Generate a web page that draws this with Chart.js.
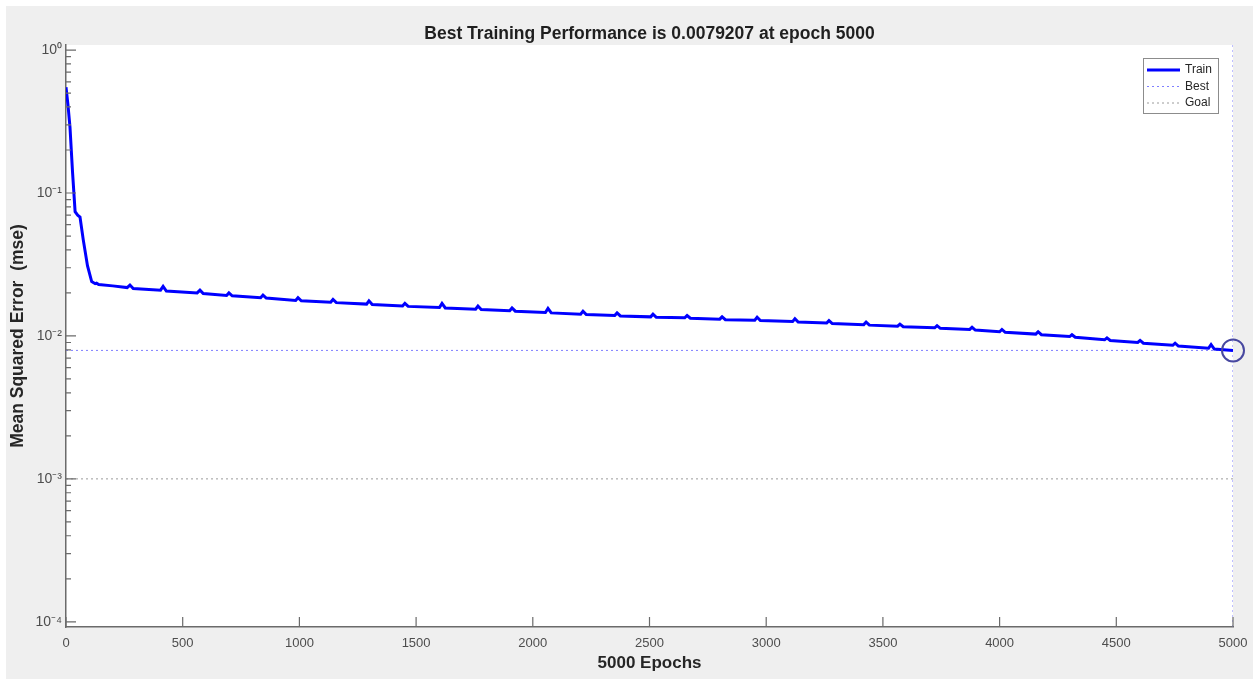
<!DOCTYPE html>
<html>
<head>
<meta charset="utf-8">
<script src="https://cdn.jsdelivr.net/npm/chart.js@4.4.1/dist/chart.umd.min.js"></script>
<style>
  html, body { margin: 0; padding: 0; background: #ffffff; }
</style>
</head>
<body>
<canvas id="graficoDesempenho" width="1259" height="679"></canvas>
<script>
const epocas = [0, 8, 17, 28, 39, 50, 60, 74, 92, 110, 125, 131, 140, 200, 262, 274, 288,
  405, 416, 430, 562, 574, 588, 688, 698, 712, 834, 844, 858, 984, 994, 1008,
  1134, 1144, 1158, 1288, 1298, 1312, 1442, 1452, 1466, 1600, 1611, 1625,
  1755, 1765, 1779, 1901, 1911, 1925, 2054, 2065, 2079, 2205, 2215, 2229,
  2351, 2361, 2375, 2505, 2515, 2529, 2651, 2661, 2675, 2801, 2811, 2825,
  2951, 2961, 2975, 3113, 3123, 3137, 3259, 3269, 3283, 3418, 3428, 3442,
  3563, 3573, 3587, 3722, 3732, 3746, 3872, 3882, 3896, 4000, 4010, 4024,
  4155, 4165, 4179, 4300, 4310, 4324, 4450, 4460, 4474, 4592, 4602, 4616,
  4742, 4752, 4766, 4895, 4906, 4920, 5000];

const mseTreino = [0.55, 0.42, 0.29, 0.14, 0.074, 0.070, 0.068, 0.047, 0.031, 0.0240, 0.0232, 0.0234, 0.0229, 0.0224, 0.0218, 0.0227, 0.0215,
  0.0209, 0.0222, 0.0206, 0.0200, 0.0209, 0.0198, 0.0192, 0.0200, 0.0191, 0.0185, 0.0193, 0.0184, 0.0177, 0.0185, 0.0176,
  0.0172, 0.0180, 0.0171, 0.0167, 0.0176, 0.0166, 0.0162, 0.0169, 0.0161, 0.0158, 0.0169, 0.0157,
  0.0154, 0.0162, 0.0153, 0.0150, 0.0157, 0.0149, 0.0146, 0.0156, 0.0145, 0.0142, 0.0149, 0.0141,
  0.0139, 0.0145, 0.0138, 0.0136, 0.0142, 0.0135, 0.0134, 0.0139, 0.0133, 0.0131, 0.0136, 0.0130,
  0.0129, 0.0135, 0.0128, 0.0126, 0.0132, 0.0125, 0.0123, 0.0128, 0.0122, 0.0120, 0.0125, 0.0119,
  0.0117, 0.0121, 0.0116, 0.0114, 0.0118, 0.0113, 0.0111, 0.0115, 0.0110, 0.0107, 0.0111, 0.0106,
  0.0103, 0.0107, 0.0102, 0.0099, 0.0102, 0.0098, 0.0094, 0.0097, 0.0093, 0.0090, 0.0093, 0.0089,
  0.0086, 0.0089, 0.0085, 0.0082, 0.0087, 0.0081, 0.0079207];

const melhorEpoca = 5000;
const melhorMse = 0.0079207;
const metaMse = 0.001;

const xLimites = [0, 5000];
const yLimites = [9.2e-5, 1.085];
const xTicks = [0, 500, 1000, 1500, 2000, 2500, 3000, 3500, 4000, 4500, 5000];
const yTicks = [1e-4, 1e-3, 1e-2, 1e-1, 1];
const yTickLabels = ['10⁻⁴', '10⁻³', '10⁻²', '10⁻¹', '10⁰'];
const legendaNomes = ['Train', 'Best', 'Goal'];

const FONTE = "'Liberation Sans', Arial, Helvetica, sans-serif";
Chart.defaults.font.family = FONTE;

const fundo = {
  id: 'fundo',
  beforeDraw(chart) {
    const { ctx, chartArea: a } = chart;
    ctx.save();
    ctx.fillStyle = '#ffffff';
    ctx.fillRect(0, 0, chart.width, chart.height);
    ctx.fillStyle = '#efefef';
    ctx.fillRect(6, 6, 1247, 673);
    ctx.fillStyle = '#ffffff';
    ctx.fillRect(a.left, a.top, a.right - a.left, a.bottom - a.top);
    ctx.restore();
  }
};

// marcas para dentro, estilo MATLAB
const marcas = {
  id: 'marcas',
  afterDatasetsDraw(chart) {
    const { ctx, chartArea: a, scales: { x, y } } = chart;
    ctx.save();
    ctx.strokeStyle = '#6b6b6b';
    ctx.lineWidth = 1.2;
    ctx.beginPath();
    yTicks.forEach((v, i) => {
      const py = y.getPixelForValue(v);
      ctx.moveTo(a.left, py);
      ctx.lineTo(a.left + 10, py);
      if (i < yTicks.length - 1) {
        for (let k = 2; k <= 9; k++) {
          const pm = y.getPixelForValue(v * k);
          ctx.moveTo(a.left, pm);
          ctx.lineTo(a.left + 5, pm);
        }
      }
    });
    xTicks.forEach(v => {
      const px = x.getPixelForValue(v);
      ctx.moveTo(px, a.bottom);
      ctx.lineTo(px, a.bottom - 10);
    });
    ctx.stroke();
    ctx.restore();
  }
};

const legenda = {
  id: 'legenda',
  afterDraw(chart) {
    const { ctx } = chart;
    const x0 = 1143, y0 = 58, w = 75, h = 55;
    ctx.save();
    ctx.fillStyle = '#ffffff';
    ctx.fillRect(x0, y0, w, h);
    ctx.strokeStyle = '#8c8c8c';
    ctx.lineWidth = 1;
    ctx.strokeRect(x0 + 0.5, y0 + 0.5, w, h);
    ctx.font = '12px ' + FONTE;
    ctx.textBaseline = 'middle';
    ctx.textAlign = 'left';
    legendaNomes.forEach((nome, i) => {
      const ds = chart.data.datasets.find(d => d.label === nome);
      const ly = y0 + 12 + i * 16.5;
      ctx.beginPath();
      ctx.strokeStyle = ds.borderColor;
      ctx.lineWidth = ds.borderWidth;
      ctx.setLineDash(ds.borderDash || []);
      ctx.moveTo(x0 + 4, ly);
      ctx.lineTo(x0 + 37, ly);
      ctx.stroke();
      ctx.setLineDash([]);
      ctx.fillStyle = '#262626';
      ctx.fillText(nome, x0 + 42, ly);
    });
    ctx.restore();
  }
};

const ctx = document.getElementById('graficoDesempenho').getContext('2d');

new Chart(ctx, {
  type: 'line',
  data: {
    datasets: [
      {
        label: 'Circle',
        data: [{ x: melhorEpoca, y: melhorMse }],
        showLine: false,
        pointRadius: 11,
        pointBorderWidth: 2,
        pointBorderColor: '#4848a0',
        pointBackgroundColor: 'rgba(0,0,0,0)',
        clip: false,
        order: 0
      },
      {
        label: 'Train',
        data: epocas.map((e, i) => ({ x: e, y: mseTreino[i] })),
        borderColor: '#0000ff',
        borderWidth: 3,
        pointRadius: 0,
        tension: 0,
        order: 1
      },
      {
        label: 'Best',
        data: [{ x: xLimites[0], y: melhorMse }, { x: xLimites[1], y: melhorMse }],
        borderColor: '#7f7fff',
        borderWidth: 1,
        borderDash: [2, 3],
        pointRadius: 0,
        order: 2
      },
      {
        label: 'BestVertical',
        data: [{ x: melhorEpoca, y: yLimites[0] }, { x: melhorEpoca, y: yLimites[1] }],
        borderColor: '#7f7fff',
        borderWidth: 1,
        borderDash: [2, 3],
        pointRadius: 0,
        order: 2
      },
      {
        label: 'Goal',
        data: [{ x: xLimites[0], y: metaMse }, { x: xLimites[1], y: metaMse }],
        borderColor: '#9a9a9a',
        borderWidth: 1,
        borderDash: [2, 3],
        pointRadius: 0,
        order: 3
      }
    ]
  },
  options: {
    responsive: false,
    animation: false,
    events: [],
    layout: { padding: { left: 0, right: 26, top: 0, bottom: 0 } },
    plugins: {
      legend: { display: false },
      tooltip: { enabled: false },
      title: {
        display: true,
        fullSize: false,
        text: 'Best Training Performance is 0.0079207 at epoch 5000',
        color: '#1f1f1f',
        font: { size: 17.5, weight: 'bold' },
        padding: { top: 23.3, bottom: 0.7 }
      }
    },
    scales: {
      x: {
        type: 'linear',
        min: xLimites[0],
        max: xLimites[1],
        afterBuildTicks: s => { s.ticks = xTicks.map(v => ({ value: v })); },
        afterFit: s => { s.height = 52; },
        ticks: {
          color: '#4d4d4d',
          font: { size: 13 },
          padding: 9,
          maxRotation: 0,
          autoSkip: false,
          callback: v => String(v)
        },
        grid: { display: true, drawOnChartArea: false, drawTicks: false },
        border: { display: true, color: '#6b6b6b', width: 1.5 },
        title: {
          display: true,
          text: '5000 Epochs',
          color: '#262626',
          font: { size: 17, weight: 'bold' },
          padding: { top: 0, bottom: 5 }
        }
      },
      y: {
        type: 'logarithmic',
        min: yLimites[0],
        max: yLimites[1],
        afterBuildTicks: s => { s.ticks = yTicks.map(v => ({ value: v })); },
        afterFit: s => { s.width = 66; },
        ticks: {
          color: '#4d4d4d',
          font: { size: 14 },
          padding: 4,
          autoSkip: false,
          callback: v => yTickLabels[yTicks.indexOf(v)]
        },
        grid: { display: true, drawOnChartArea: false, drawTicks: false },
        border: { display: true, color: '#6b6b6b', width: 1.5 },
        title: {
          display: true,
          text: 'Mean Squared Error  (mse)',
          color: '#262626',
          font: { size: 17.5, weight: 'bold' },
          padding: { top: 8, bottom: 0 }
        }
      }
    }
  },
  plugins: [fundo, marcas, legenda]
});
</script>
</body>
</html>
